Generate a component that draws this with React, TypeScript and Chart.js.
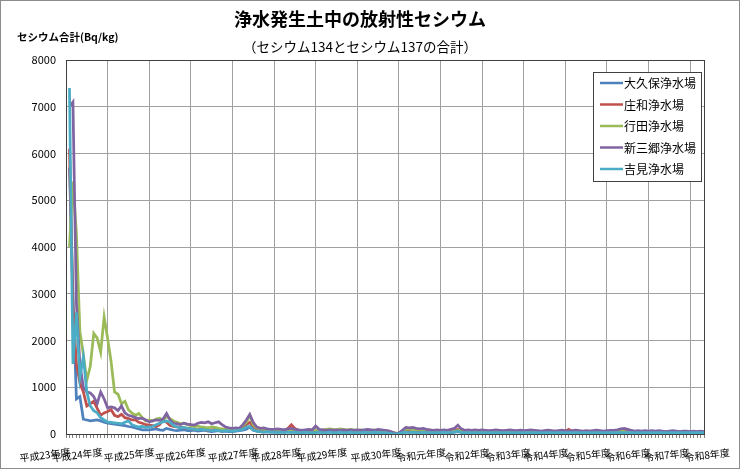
import React, { useEffect, useRef } from "react";
import { Chart, registerables } from "chart.js";

Chart.register(...registerables);

const FONT = "'Noto Sans CJK JP', 'Noto Sans', sans-serif";

const chartTitle = "浄水発生土中の放射性セシウム";
const chartSubtitle = "（セシウム134とセシウム137の合計）";
const yAxisTitle = "セシウム合計(Bq/kg)";

const seriesNames = ["大久保浄水場", "庄和浄水場", "行田浄水場", "新三郷浄水場", "吉見浄水場"];
const seriesColors = ["#4F81BD", "#C0504D", "#9BBB59", "#8064A2", "#4BACC6"];

const yearLabels = [
  "平成23年度", "平成24年度", "平成25年度", "平成26年度", "平成27年度", "平成28年度",
  "平成29年度", "平成30年度", "令和元年度", "令和2年度", "令和3年度", "令和4年度",
  "令和5年度", "令和6年度", "令和7年度", "令和8年度",
];
// category (month index) where each fiscal-year label is shown
const yearLabelAt = [-6.1, 3.2, 18.2, 33.0, 48.2, 60.6, 73.8, 89.4, 102.4, 115.7, 127.5, 138.4, 150.6, 162.1, 173.3, 184.9];

const yTicks = [0, 1000, 2000, 3000, 4000, 5000, 6000, 7000, 8000];

// monthly categories from April 2011
const months: string[] = [];
for (let i = 0; i < 185; i++) {
  const m = 3 + i;
  months.push(`${2011 + Math.floor(m / 12)}/${(m % 12) + 1}`);
}

const okubo = [
  null, 5700, 3000, 750, 800, 320, 300, 280, 290, 300, 280, 250,
  230, 220, 210, 200, 190, 180, 160, 150, 130, 110, 90, 90,
  90, 100, 110, 90, 80, 120, 100, 80, 70, 80, 90, 70,
  70, 80, 60, 70, 80, 60, 50, 60, 70, 50, 60, 50,
  50, 60, 70, 80, 100, 150, 80, 60, 50, 40, 50, 40,
  40, 50, 40, 50, 60, 50, 40, 40, 30, 40, 50, 40,
  40, 50, 40, 40, 50, 40, 30, 40, 40, 30, 40, 40,
  30, 40, 40, 30, 40, 30, 30, 40, 30, 30, 20, 10,
  10, 30, 40, 50, 40, 40, 30, 40, 40, 30, 40, 30,
  30, 40, 40, 30, 40, 50, 40, 30, 30, 40, 30, 30,
  30, 40, 30, 40, 30, 30, 40, 30, 30, 40, 30, 30,
  30, 30, 40, 30, 30, 40, 30, 30, 30, 40, 30, 30,
  30, 40, 30, 30, 40, 30, 30, 30, 30, 40, 30, 30,
  30, 30, 40, 30, 30, 40, 40, 30, 30, 30, 30, 30,
  30, 30, 30, 40, 30, 30, 30, 30, 30, 30, 30, 30,
  30, 30, 40, 30, 30,
];

const showa = [
  null, 6100, 2700, 1500, 1100, 900, 600, 650, 700, 550, 400, 450,
  480, 520, 400, 370, 420, 350, 330, 300, 300, 250, 230, 200,
  190, 180, 160, 200, 300, 250, 180, 160, 150, 140, 130, 120,
  110, 100, 90, 100, 90, 80, 90, 100, 80, 70, 80, 90,
  80, 90, 100, 150, 200, 250, 150, 100, 80, 70, 60, 60,
  60, 70, 60, 80, 120, 200, 120, 80, 60, 60, 50, 60,
  60, 50, 60, 50, 60, 50, 60, 50, 60, 50, 50, 60,
  50, 60, 50, 50, 60, 50, 50, 40, 40, 50, 30, 15,
  20, 50, 70, 90, 100, 80, 70, 60, 70, 60, 50, 60,
  50, 60, 70, 60, 80, 100, 70, 60, 50, 60, 50, 50,
  50, 60, 50, 40, 50, 60, 50, 40, 50, 50, 40, 50,
  40, 50, 60, 50, 40, 50, 40, 50, 60, 50, 40, 50,
  60, 100, 50, 40, 50, 40, 50, 60, 40, 50, 40, 50,
  40, 50, 60, 50, 40, 50, 60, 50, 40, 50, 40, 40,
  50, 40, 50, 40, 50, 40, 40, 50, 40, 40, 50, 40,
  40, 50, 40, 50, 40,
];

const gyoda = [
  null, 4000, 5400, 4300, 2200, 1700, 1150, 1450, 2150, 2050, 1750, 2500,
  2050, 1550, 900, 850, 650, 700, 520, 450, 400, 440, 350, 280,
  300, 280, 320, 340, 300, 370, 330, 280, 250, 220, 230, 200,
  180, 160, 170, 150, 140, 130, 150, 140, 120, 110, 100, 110,
  100, 110, 120, 180, 250, 400, 200, 130, 110, 100, 90, 90,
  80, 90, 80, 90, 100, 90, 80, 70, 80, 70, 80, 90,
  80, 70, 90, 100, 110, 100, 90, 110, 100, 90, 100, 90,
  80, 90, 80, 70, 80, 90, 70, 60, 70, 60, 40, 20,
  20, 60, 100, 110, 90, 100, 90, 80, 90, 80, 70, 60,
  70, 60, 70, 80, 60, 70, 80, 60, 50, 60, 50, 60,
  50, 60, 50, 60, 50, 40, 50, 60, 50, 40, 50, 60,
  50, 40, 50, 60, 50, 40, 50, 40, 50, 60, 50, 40,
  50, 60, 50, 40, 50, 40, 50, 60, 50, 40, 50, 50,
  40, 50, 60, 70, 60, 50, 40, 50, 40, 50, 40, 50,
  40, 50, 40, 50, 40, 50, 40, 40, 50, 40, 40, 50,
  40, 50, 40, 40, 50,
];

const shinmisato = [
  null, 7000, 7100, 2800, 1500, 1000, 900, 880, 800, 650, 900, 750,
  560, 580, 560, 500, 600, 450, 400, 380, 350, 330, 340, 300,
  260, 280, 300, 290, 320, 440, 300, 230, 220, 200, 230, 210,
  200, 190, 230, 250, 240, 260, 220, 240, 260, 200, 150, 130,
  120, 130, 120, 200, 300, 420, 250, 150, 120, 130, 110, 100,
  100, 110, 100, 90, 110, 120, 100, 90, 80, 90, 100, 90,
  170, 100, 90, 80, 90, 80, 90, 80, 90, 80, 90, 80,
  90, 80, 90, 100, 90, 80, 100, 90, 80, 70, 40, 15,
  20, 80, 140, 130, 140, 120, 110, 120, 100, 90, 80, 90,
  80, 90, 80, 100, 120, 190, 110, 80, 90, 80, 90, 80,
  90, 80, 70, 80, 90, 80, 70, 80, 90, 80, 70, 80,
  70, 80, 90, 80, 70, 60, 70, 80, 70, 60, 70, 80,
  70, 60, 70, 80, 70, 60, 70, 60, 70, 80, 70, 60,
  70, 80, 80, 90, 110, 120, 100, 80, 60, 70, 60, 70,
  60, 70, 60, 70, 60, 50, 60, 70, 60, 50, 60, 60,
  50, 60, 50, 60, 50,
];

const yoshimi = [
  null, 7400, 1500, 2600, 1200, 1650, 900, 600, 500, 450, 350, 300,
  260, 250, 240, 230, 220, 250, 280, 200, 170, 150, 160, 140,
  150, 160, 200, 230, 260, 280, 250, 180, 150, 130, 140, 120,
  110, 100, 90, 100, 90, 80, 70, 80, 70, 60, 70, 60,
  60, 70, 80, 100, 150, 160, 90, 60, 50, 40, 50, 40,
  40, 30, 40, 30, 40, 30, 40, 30, 30, 40, 30, 30,
  30, 40, 30, 30, 40, 30, 30, 40, 30, 30, 40, 30,
  30, 30, 40, 30, 30, 40, 30, 30, 30, 20, 10, 5,
  10, 30, 40, 30, 40, 30, 30, 40, 30, 30, 30, 30,
  30, 40, 30, 30, 40, 60, 30, 30, 30, 30, 30, 30,
  30, 30, 30, 30, 30, 30, 30, 30, 30, 30, 30, 30,
  30, 30, 30, 30, 30, 30, 30, 30, 30, 30, 30, 30,
  30, 30, 30, 30, 30, 30, 30, 30, 30, 30, 30, 30,
  30, 30, 30, 30, 30, 30, 30, 30, 30, 30, 30, 30,
  30, 30, 30, 30, 30, 30, 30, 30, 30, 30, 30, 30,
  30, 30, 30, 30, 30,
];

const seriesValues = [okubo, showa, gyoda, shinmisato, yoshimi];

const GRID = "#a0a0a0";

const decorPlugin = {
  id: "decor",
  beforeDraw(chart: any) {
    const { ctx, width, height } = chart;
    ctx.save();
    ctx.fillStyle = "#ffffff";
    ctx.fillRect(0, 0, width, height);
    ctx.strokeStyle = "#8c8c8c";
    ctx.lineWidth = 1;
    ctx.strokeRect(0.5, 0.5, width - 1, height - 1);
    ctx.restore();
  },
  beforeDatasetsDraw(chart: any) {
    const { ctx, chartArea: a } = chart;
    ctx.save();
    ctx.strokeStyle = "#404040";
    ctx.lineWidth = 1;
    ctx.strokeRect(Math.round(a.left) + 0.5, Math.round(a.top) + 0.5, Math.round(a.right - a.left), Math.round(a.bottom - a.top));
    ctx.restore();
  },
  afterDraw(chart: any) {
    const { ctx, chartArea: a, width } = chart;
    const xs = chart.scales.x;
    ctx.save();
    ctx.fillStyle = "#000";
    ctx.textAlign = "center";
    ctx.textBaseline = "middle";
    ctx.font = `bold 18px ${FONT}`;
    ctx.fillText(chartTitle, width / 2 - 10, 19);
    ctx.font = `13.5px ${FONT}`;
    ctx.fillText(chartSubtitle, width / 2 - 10, 47);
    ctx.textAlign = "left";
    ctx.font = `bold 10.5px ${FONT}`;
    ctx.fillText(yAxisTitle, 17, 37);

    // fiscal year labels (slightly rotated)
    ctx.font = `10px ${FONT}`;
    ctx.textAlign = "center";
    yearLabels.forEach((lab, k) => {
      const px = xs.getPixelForValue(yearLabelAt[k]);
      ctx.save();
      ctx.translate(px, 455);
      ctx.rotate((-7 * Math.PI) / 180);
      ctx.fillText(lab, 0, 0);
      ctx.restore();
    });

    // legend box
    const bx = a.right - 111, by = a.top + 12, bw = 108, bh = 109;
    ctx.fillStyle = "#ffffff";
    ctx.fillRect(bx, by, bw, bh);
    ctx.strokeStyle = "#404040";
    ctx.lineWidth = 1;
    ctx.strokeRect(Math.round(bx) + 0.5, Math.round(by) + 0.5, bw, bh);
    ctx.font = `12px ${FONT}`;
    ctx.textAlign = "left";
    seriesNames.forEach((n, k) => {
      const ly = by + 11 + k * 21.5;
      ctx.strokeStyle = seriesColors[k];
      ctx.lineWidth = 2.5;
      ctx.beginPath();
      ctx.moveTo(bx + 7, ly);
      ctx.lineTo(bx + 30, ly);
      ctx.stroke();
      ctx.fillStyle = "#000";
      ctx.fillText(n, bx + 31, ly + 0.5);
    });
    ctx.restore();
  },
};

export default function App() {
  const ref = useRef<HTMLCanvasElement | null>(null);
  useEffect(() => {
    document.body.style.margin = "0";
    if (!ref.current) return;
    const chart = new Chart(ref.current, {
      type: "line",
      data: {
        labels: months,
        datasets: seriesNames.map((name, k) => ({
          label: name,
          data: seriesValues[k] as any,
          borderColor: seriesColors[k],
          backgroundColor: seriesColors[k],
          borderWidth: 2.75,
          pointRadius: 0,
          tension: 0,
          fill: false,
          order: seriesNames.length - 1 - k,
        })),
      },
      options: {
        responsive: false,
        animation: false,
        devicePixelRatio: 1,
        layout: { padding: { top: 60, right: 36, left: 0, bottom: 0 } },
        plugins: {
          legend: { display: false },
          tooltip: { enabled: false },
          title: { display: false },
        },
        scales: {
          x: {
            type: "category",
            offset: false,
            border: { display: false },
            grid: {
              color: (c: any) => (c.index % 12 === 0 ? GRID : "rgba(0,0,0,0)"),
              tickColor: "#808080",
              tickLength: 4,
              drawTicks: true,
              lineWidth: 1,
            },
            ticks: { display: false, autoSkip: false },
            afterFit: (s: any) => {
              s.height = 35;
            },
          },
          y: {
            min: 0,
            max: 8000,
            afterBuildTicks: (s: any) => {
              s.ticks = yTicks.map((v) => ({ value: v }));
            },
            border: { display: false },
            grid: { color: GRID, drawTicks: false, lineWidth: 1 },
            ticks: {
              padding: 10,
              color: "#000",
              font: { size: 11, family: FONT },
              callback: (v: any) => String(v),
            },
            afterFit: (s: any) => {
              s.width = 66;
            },
          },
        },
      },
      plugins: [decorPlugin],
    });
    return () => chart.destroy();
  }, []);
  return <canvas ref={ref} width={740} height={469} style={{ display: "block" }} />;
}
